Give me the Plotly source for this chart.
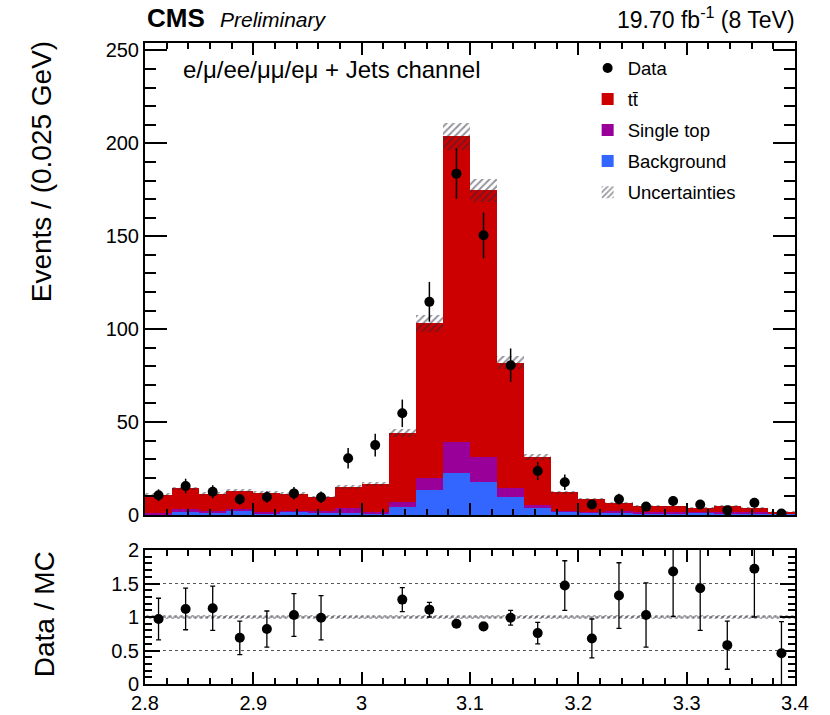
import numpy as np
import plotly.graph_objects as go

# ---------------- data ----------------
bin_centers = [2.8125, 2.8375, 2.8625, 2.8875, 2.9125, 2.9375, 2.9625, 2.9875,
               3.0125, 3.0375, 3.0625, 3.0875, 3.1125, 3.1375, 3.1625, 3.1875,
               3.2125, 3.2375, 3.2625, 3.2875, 3.3125, 3.3375, 3.3625, 3.3875]
bin_width = 0.025

background = [0.4, 1.8, 1.2, 1.9, 0.9, 2.1, 1.2, 1.2, 0.8, 4.5, 13.4, 22.4,
              17.6, 9.5, 3.6, 1.8, 1.2, 1.2, 1.0, 0.9, 1.2, 1.0, 0.9, 0.6]
single_top = [0.6, 1.2, 0.9, 1.1, 0.9, 0.3, 0.9, 2.7, 0.6, 2.7, 6.3, 17.0,
              13.4, 5.2, 1.8, 0.5, 0.6, 1.1, 0.5, 0.6, 0.4, 0.6, 0.5, 0.4]
ttbar = [10.0, 11.3, 9.4, 10.1, 10.2, 9.0, 7.6, 11.3, 15.4, 36.8, 83.5, 164.4,
         143.7, 67.2, 25.6, 9.9, 6.6, 4.0, 3.2, 3.1, 2.2, 3.2, 2.3, 0.8]
mc_unc = [0.8, 0.9, 0.8, 0.9, 0.8, 0.8, 0.7, 1.0, 1.1, 2.3, 4.5, 7.4,
          6.3, 3.6, 1.6, 0.8, 0.6, 0.5, 0.4, 0.4, 0.4, 0.4, 0.4, 0.3]

data = [10.6, 15.6, 12.5, 8.5, 9.7, 11.6, 9.5, 30.5, 37.6, 54.7, 114.7, 183.7,
        150.5, 80.6, 23.7, 17.6, 5.6, 8.5, 4.5, 7.5, 5.6, 2.5, 6.6, 0.8]
data_err = [3.2, 3.9, 3.5, 2.9, 3.1, 3.4, 3.1, 5.5, 6.1, 7.4, 10.7, 13.5,
            12.3, 9.0, 4.9, 4.2, 2.4, 2.9, 2.1, 2.7, 2.4, 1.6, 2.6, 0.9]

ratio = [0.97, 1.12, 1.13, 0.69, 0.82, 1.03, 0.99, None, None, 1.26, 1.11, 0.90,
         0.86, 0.99, 0.76, 1.47, 0.68, 1.32, 1.03, 1.68, 1.43, 0.58, 1.72, 0.46]
ratio_err = [0.31, 0.31, 0.33, 0.25, 0.27, 0.32, 0.33, 0, 0, 0.18, 0.11, 0.05,
             0.06, 0.11, 0.16, 0.37, 0.29, 0.49, 0.48, 0.67, 0.63, 0.36, 0.72, 0.47]

ratio_ref_lines = [0.5, 1.0, 1.5]
ratio_band_half = 0.025

# ---------------- derived stacking ----------------
bkg_a = np.array(background)
st_a = np.array(single_top)
tt_a = np.array(ttbar)
unc_a = np.array(mc_unc)
total = bkg_a + st_a + tt_a

FONT = "Liberation Sans, Arial, Helvetica, sans-serif"
RED = "#CC0000"
PURPLE = "#990099"
BLUE = "#3366FF"
HATCH = "#2a2a3a"

fig = go.Figure()

fig.add_trace(go.Bar(x=bin_centers, y=background, base=[0] * len(background),
                     width=bin_width, marker=dict(color=BLUE, line=dict(width=0)),
                     name="Background", legendrank=4, legendgroup="g4",
                     xaxis="x", yaxis="y"))
fig.add_trace(go.Bar(x=bin_centers, y=single_top, base=bkg_a.tolist(),
                     width=bin_width, marker=dict(color=PURPLE, line=dict(width=0)),
                     name="Single top", legendrank=3, legendgroup="g3",
                     xaxis="x", yaxis="y"))
fig.add_trace(go.Bar(x=bin_centers, y=ttbar, base=(bkg_a + st_a).tolist(),
                     width=bin_width, marker=dict(color=RED, line=dict(width=0)),
                     name="t\u0074\u0304", legendrank=2, legendgroup="g2",
                     xaxis="x", yaxis="y"))
fig.add_trace(go.Bar(x=bin_centers, y=(2 * unc_a).tolist(), base=(total - unc_a).tolist(),
                     width=bin_width,
                     marker=dict(color="rgba(0,0,0,0)", line=dict(width=0),
                                 pattern=dict(shape="/", fgcolor=HATCH, size=5, solidity=0.4)),
                     name="Uncertainties", legendrank=5, legendgroup="g5",
                     xaxis="x", yaxis="y"))
fig.add_trace(go.Scatter(x=bin_centers, y=data, mode="markers",
                         marker=dict(color="black", size=10),
                         error_y=dict(type="data", array=data_err, color="black",
                                      thickness=1.5, width=0),
                         name="Data", legendrank=1, legendgroup="g1",
                         xaxis="x", yaxis="y"))

# ratio panel
fig.add_trace(go.Bar(x=[3.1], y=[2 * ratio_band_half], base=[1 - ratio_band_half], width=[0.6],
                     marker=dict(color="rgba(0,0,0,0)", line=dict(width=0),
                                 pattern=dict(shape="/", fgcolor=HATCH, size=4, solidity=0.4)),
                     showlegend=False, xaxis="x2", yaxis="y2"))
fig.add_trace(go.Scatter(x=bin_centers, y=ratio, mode="markers",
                         marker=dict(color="black", size=10),
                         error_y=dict(type="data", array=ratio_err, color="black",
                                      thickness=1.3, width=2.5),
                         showlegend=False, xaxis="x2", yaxis="y2"))

for v in ratio_ref_lines:
    fig.add_shape(type="line", xref="x2", yref="y2", x0=2.8, x1=3.4, y0=v, y1=v,
                  line=dict(color="#555555", width=1, dash="dot"), layer="below")

axis_common = dict(showline=True, linecolor="black", linewidth=2, mirror="allticks",
                   ticks="inside", tickcolor="black", tickwidth=1.5,
                   showgrid=False, zeroline=False, automargin=False,
                   tickfont=dict(family=FONT, size=20, color="black"))

fig.update_layout(
    width=830, height=715,
    margin=dict(l=145, r=35, t=43, b=31, autoexpand=False),
    paper_bgcolor="white", plot_bgcolor="white",
    barmode="overlay", bargap=0,
    font=dict(family=FONT, color="black"),
    xaxis=dict(domain=[0, 1], range=[2.8, 3.4], anchor="y", showticklabels=False,
               tick0=2.8, dtick=0.1, ticklen=12,
               minor=dict(dtick=0.02, ticklen=6, ticks="inside", tickcolor="black", tickwidth=1.5),
               **axis_common),
    xaxis2=dict(domain=[0, 1], range=[2.8, 3.4], anchor="y2", matches="x",
                tickvals=[2.8, 2.9, 3.0, 3.1, 3.2, 3.3, 3.4],
                ticktext=["2.8", "2.9", "3", "3.1", "3.2", "3.3", "3.4"], ticklen=12,
                minor=dict(dtick=0.02, tick0=2.8, ticklen=6, ticks="inside", tickcolor="black", tickwidth=1.5),
                **axis_common),
    yaxis=dict(domain=[0.2637, 1], range=[0, 254], anchor="x",
               tickvals=[0, 50, 100, 150, 200, 250], ticklen=22,
               minor=dict(dtick=10, ticklen=11, ticks="inside", tickcolor="black", tickwidth=1.5),
               **axis_common),
    yaxis2=dict(domain=[0, 0.209], range=[0, 2], anchor="x2",
                tickvals=[0, 0.5, 1, 1.5, 2], ticktext=["0", "0.5", "1", "1.5", "2"], ticklen=15,
                minor=dict(dtick=0.1, ticklen=7, ticks="inside", tickcolor="black", tickwidth=1.5),
                **axis_common),
    legend=dict(x=0.681, y=0.99, xanchor="left", yanchor="top",
                font=dict(family=FONT, size=18.5, color="black"),
                bgcolor="rgba(0,0,0,0)", traceorder="grouped", tracegroupgap=4),
    showlegend=True,
)

annotations = [
    dict(text="<b>CMS</b>", x=0.0, y=1.039, xanchor="left", yanchor="middle",
         font=dict(size=26)),
    dict(text="<i>Preliminary</i>", x=0.112, y=1.037, xanchor="left", yanchor="middle",
         font=dict(size=21)),
    dict(text="19.70 fb<sup>-1</sup> (8 TeV)", x=1.003, y=1.039, xanchor="right", yanchor="middle",
         font=dict(size=23)),
    dict(text="e/\u03bc/ee/\u03bc\u03bc/e\u03bc + Jets channel", x=0.055, y=0.958,
         xanchor="left", yanchor="middle", font=dict(size=24)),
    dict(text="Events / (0.025 GeV)", x=-0.158, y=(684 - 172) / 641, xanchor="center",
         yanchor="middle", textangle=-90, font=dict(size=28)),
    dict(text="Data / MC", x=-0.155, y=(684 - 614) / 641, xanchor="center",
         yanchor="middle", textangle=-90, font=dict(size=28)),
]
for a in annotations:
    a.update(xref="paper", yref="paper", showarrow=False)
    a["font"].update(family=FONT, color="black")
    fig.add_annotation(**a)

fig.write_html("out.html")
